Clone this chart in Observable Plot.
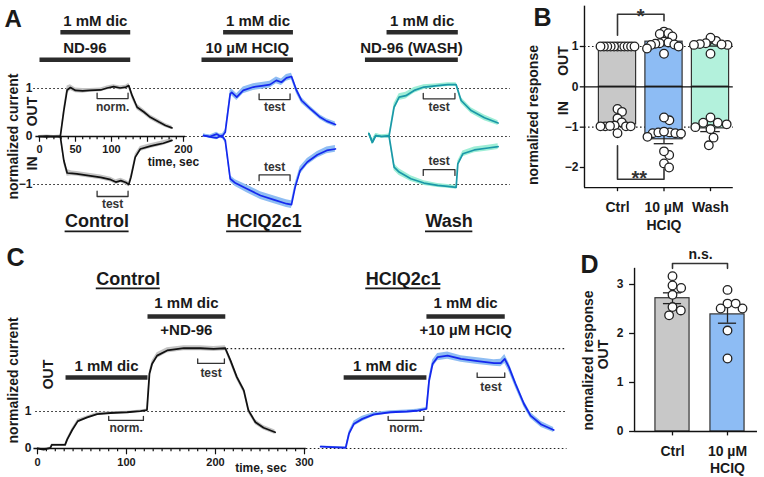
<!DOCTYPE html>
<html><head><meta charset="utf-8">
<script src="https://cdn.jsdelivr.net/npm/d3@7"></script>
<script src="https://cdn.jsdelivr.net/npm/@observablehq/plot@0.6"></script>
<style>
body{margin:0;background:#fff}
#fig{position:relative;width:764px;height:477px;overflow:hidden;background:#fff}
</style></head><body><div id="fig"></div>
<script>
// ---------- DATA ----------
// Panel A traces: [time (s), normalized current, SEM]
const aCtrlOut = [[-1,0,0.02],[10,0.01,0.02],[20,0,0.02],[29,0.01,0.02],[33.8,0.54,0.08],[38.4,0.97,0.08],[43,1.02,0.06],[50,0.96,0.05],[60,0.95,0.05],[70,0.96,0.04],[85,0.97,0.04],[94,1.01,0.04],[103,1.04,0.04],[112,1.01,0.04],[120,1.03,0.04],[124,1.06,0.05],[128.7,0.85,0.07],[135.6,0.61,0.06],[145,0.51,0.05],[154,0.40,0.05],[166,0.30,0.05],[175,0.23,0.04],[184,0.18,0.04]];
const aCtrlIn = [[-1,0,0.02],[10,-0.01,0.02],[20,0,0.02],[29,-0.01,0.02],[33.8,-0.5,0.08],[38.4,-0.76,0.07],[45,-0.77,0.05],[52,-0.78,0.05],[66,-0.81,0.05],[85,-0.85,0.05],[99,-0.9,0.05],[106,-0.95,0.05],[113,-0.92,0.05],[120,-0.96,0.05],[124,-1.0,0.05],[127,-0.85,0.06],[133,-0.43,0.06],[140,-0.26,0.05],[154,-0.2,0.05],[163,-0.17,0.05],[172,-0.14,0.05],[184,-0.08,0.04]];
const aHciqOut = [[1.9,0.02,0.03],[11,0,0.03],[20,0.05,0.04],[27,-0.01,0.04],[32,0.09,0.05],[38.9,0.89,0.07],[41,0.92,0.07],[48,0.82,0.07],[57,0.96,0.07],[71,1.03,0.07],[85,1.06,0.07],[94,1.08,0.07],[103,1.17,0.07],[110,1.13,0.07],[117,1.22,0.07],[124,1.25,0.07],[131,0.96,0.07],[138,0.75,0.06],[150,0.58,0.05],[164,0.40,0.05],[173,0.32,0.05],[185,0.25,0.05]];
const aHciqIn = [[1.9,0.02,0.03],[11,-0.01,0.03],[20,-0.03,0.04],[27,0.02,0.04],[32,-0.08,0.05],[38.9,-0.88,0.07],[46,-0.97,0.07],[62,-1.09,0.08],[81,-1.23,0.08],[100,-1.32,0.08],[117,-1.4,0.08],[124,-1.42,0.08],[129,-1.06,0.08],[136,-0.71,0.08],[146,-0.53,0.07],[160,-0.38,0.07],[173,-0.29,0.07],[185,-0.26,0.07]];
const aWashOut = [[4.6,0.06,0.04],[9.3,-0.12,0.05],[14,0.02,0.04],[22,0,0.03],[32.6,0.02,0.03],[39.5,0.61,0.08],[46.5,0.82,0.07],[55.8,0.85,0.07],[67.4,0.96,0.06],[81,1.03,0.05],[100,1.06,0.04],[114,1.08,0.04],[125.7,1.08,0.04],[132.6,0.75,0.06],[146.5,0.54,0.06],[165,0.39,0.06],[184,0.28,0.05]];
const aWashIn = [[4.6,0.06,0.04],[9.3,-0.12,0.05],[14,0.02,0.04],[22,0,0.03],[32.6,0,0.03],[39.5,-0.64,0.07],[46.5,-0.74,0.07],[62.8,-0.88,0.06],[81,-0.97,0.05],[100,-1.02,0.04],[114,-1.04,0.04],[125.7,-1.06,0.04],[128,-0.57,0.06],[135,-0.36,0.06],[151,-0.28,0.06],[170,-0.24,0.06],[184,-0.21,0.06]];
const aConditions = ["Control", "HCIQ2c1", "Wash"];
const aUpperDrug = ["1 mM dic", "1 mM dic", "1 mM dic"];
const aLowerDrug = ["ND-96", "10 µM HCIQ", "ND-96 (WASH)"];
const aUpperSpan = [[29,126],[29,126],[29,128]];
const aLowerSpan = [[0,126],[-1,126],[-1,128]];
const aWindow = [[80,123],[79,122],[80,124]];
const aTimeTicks = [0, 50, 100, 200];

// Panel B
const bCategories = ["Ctrl", "10 µM\nHCIQ", "Wash"];
const bOutMean = [1.0, 1.12, 1.06];
const bOutSem = [0.005, 0.04, 0.05];
const bInMean = [-0.93, -1.30, -1.03];
const bInSem = [0.05, 0.11, 0.08];
const bOutPts = [
  [1,1,1,1,1,1,1,1,1,1,1],
  [1.37,1.31,1.33,1.25,1.12,1.1,1.08,1.07,1.05,1.04,1.0,0.95,0.82],
  [1.14,1.22,1.08,1.06,1.04,1.04,1.05,0.82]
];
const bInPts = [
  [-0.55,-0.62,-0.78,-0.88,-0.96,-0.98,-0.98,-0.98,-0.98,-0.97,-1.15],
  [-0.83,-0.76,-1.13,-1.15,-1.16,-1.15,-1.13,-1.11,-1.24,-1.69,-1.6,-1.9,-2.0],
  [-0.76,-0.89,-0.89,-0.93,-1.0,-1.05,-1.26,-1.45]
];
const bTicks = [-2, -1, 0, 1];

// Panel C traces
const cCtrl = [[0,0,0.02],[7,-0.03,0.02],[14.6,0.02,0.02],[16,0.1,0.02],[31,0.1,0.02],[33.3,0.24,0.04],[39,0.5,0.05],[45.3,0.74,0.05],[55.8,0.84,0.04],[67,0.93,0.04],[82,0.96,0.03],[100.7,0.98,0.03],[115.7,1.01,0.03],[123,1.04,0.03],[125.8,2.02,0.08],[128.8,2.29,0.08],[134.4,2.51,0.08],[145.7,2.65,0.07],[164.4,2.71,0.07],[183,2.71,0.07],[198,2.69,0.07],[211,2.71,0.07],[216.8,2.38,0.08],[224,1.93,0.08],[231.8,1.57,0.08],[237,1.03,0.08],[244.9,0.71,0.07],[254,0.56,0.06],[267,0.44,0.06]];
const cHciq = [[2.2,0.05,0.02],[30.3,0.02,0.02],[34,0.4,0.06],[39.7,0.67,0.07],[49,0.8,0.07],[62,0.92,0.05],[80.5,0.98,0.04],[99,1.0,0.04],[110,1.02,0.04],[121,1.07,0.04],[124,1.83,0.1],[128,2.29,0.1],[133.6,2.47,0.1],[144.8,2.51,0.1],[159.8,2.42,0.09],[178.5,2.36,0.09],[197,2.31,0.09],[204.5,2.31,0.1],[209,2.42,0.12],[213.7,2.2,0.12],[221,1.75,0.1],[230.5,1.21,0.09],[238,0.89,0.08],[250,0.65,0.08],[264,0.5,0.07]];
const cConditions = ["Control", "HCIQ2c1"];
const cFirstSpan = [[31.5,123.6],[28,121]];
const cSecondSpan = [[123.6,211],[121,209]];
const cSecondDrug = ["+ND-96", "+10 µM HCIQ"];
const cNormWindow = [[80,119],[78,118]];
const cTestWindow = [[180,210],[178,209]];
const cTimeTicks = [0, 100, 200, 300];
const cPlateau = 2.7;

// Panel D
const dCategories = ["Ctrl", "10 µM\nHCIQ"];
const dMean = [2.72, 2.39];
const dSem = [0.11, 0.18];
const dPts = [
  [3.17,2.98,2.93,2.79,2.54,2.47,2.37],
  [2.89,2.61,2.51,2.51,2.61,2.06,1.49]
];
const dTicks = [0, 1, 2, 3];

// ---------- HELPERS ----------
const FONT = '"Liberation Sans", Arial, Helvetica, sans-serif';
const INK = "#1a1a1a";
const txt = (data, o) => Plot.text(data, {fontWeight: "bold", fill: INK, fontSize: 14, text: d => d, ...o});
const dotted = {stroke: "#222", strokeDasharray: "1.6,2.4", strokeWidth: 1.2};
const fmt = v => v < 0 ? "−" + Math.abs(v) : String(v);
const ctx = document.createElement("canvas").getContext("2d");
function textWidth(s, size) { ctx.font = `bold ${size}px ${FONT}`; return ctx.measureText(s).width; }
function place(svg, left, top) {
  svg.style.position = "absolute";
  svg.style.left = left + "px";
  svg.style.top = top + "px";
  svg.style.background = "transparent";
  svg.style.maxWidth = "none";
  document.getElementById("fig").appendChild(svg);
}
function bracketPts(t0, t1, yLine, yEnd, id) {
  return [[t0, yEnd, id], [t0, yLine, id], [t1, yLine, id], [t1, yEnd, id]];
}
// simple beeswarm in pixel space, compressed to fit inside the bar
function swarm(values, pyPerUnit, r, maxHalf, pxPerUnit) {
  const d = 2 * r;
  const items = values.map((v, i) => ({v, i, y: v * pyPerUnit})).sort((a, b) => b.v - a.v);
  const placed = [];
  for (const it of items) {
    const cands = [0];
    for (const p of placed) {
      const dy = Math.abs(p.y - it.y);
      if (dy < d) { const dx = Math.sqrt(d * d - dy * dy); cands.push(p.x + dx, p.x - dx); }
    }
    cands.sort((a, b) => Math.abs(a) - Math.abs(b));
    it.x = cands.find(c => placed.every(p => (p.x - c) ** 2 + (p.y - it.y) ** 2 >= d * d - 1e-6));
    placed.push(it);
  }
  const m = d3.max(placed, p => Math.abs(p.x)) || 0;
  const k = m > maxHalf ? maxHalf / m : 1;
  const out = new Array(values.length);
  for (const p of placed) out[p.i] = p.x * k / pxPerUnit;
  return out;
}

// ---------- PANEL A ----------
{
  const offs = [0, 226, 453];
  const tEnd = 654;
  const pxPerSec = 0.72;
  const series = [
    {off: 0, data: aCtrlOut, line: "#111", band: "#c4c4c4"},
    {off: 0, data: aCtrlIn, line: "#111", band: "#c4c4c4"},
    {off: 226, data: aHciqOut, line: "#1428ee", band: "#8fbdf3"},
    {off: 226, data: aHciqIn, line: "#1428ee", band: "#8fbdf3"},
    {off: 453, data: aWashOut, line: "#1a98a8", band: "#9eeed6"},
    {off: 453, data: aWashIn, line: "#1a98a8", band: "#9eeed6"}
  ];
  const idx = [0, 1, 2];
  const titleY = -1.77;
  const titleX = i => [80, 86, 116][i] + offs[i];
  const titleHalf = i => textWidth(aConditions[i], 18) / 2 / pxPerSec;
  const upperY = [0.79, 0.77, 0.785], lowerY = [-1.25, -0.80, -0.69];
  const br = [];
  idx.forEach(i => {
    const [t0, t1] = aWindow[i];
    br.push(...bracketPts(t0 + offs[i], t1 + offs[i], upperY[i], upperY[i] + 0.115, "u" + i));
    br.push(...bracketPts(t0 + offs[i], t1 + offs[i], lowerY[i], lowerY[i] + (i === 0 ? 0.11 : -0.12), "l" + i));
  });
  const svg = Plot.plot({
    width: 520, height: 240, marginTop: 0, marginLeft: 0, marginRight: 0, marginBottom: 0,
    style: {fontFamily: FONT},
    x: {domain: [0, 200], range: [39, 183], axis: null},
    y: {domain: [-1, 1], range: [184, 88], axis: null},
    marks: [
      Plot.ruleY([1, -1], {x1: -8, x2: tEnd, ...dotted}),
      Plot.ruleY([0], {x1: 203, x2: tEnd, ...dotted}),
      ...series.map(s => Plot.areaY(s.data, {x: d => d[0] + s.off, y1: d => d[1] - d[2], y2: d => d[1] + d[2], fill: s.band})),
      ...series.map(s => Plot.line(s.data, {x: d => d[0] + s.off, y: d => d[1], stroke: s.line, strokeWidth: 1.7})),
      Plot.ruleY([0], {x1: -5, x2: 203, stroke: "#111", strokeWidth: 1.6}),
      Plot.ruleX(d3.range(0, 201, 10), {y1: 0, y2: d => d % 50 === 0 ? -0.12 : -0.07, stroke: "#111", strokeWidth: 1.2}),
      txt(aTimeTicks, {x: d => d, y: 0, dy: 13, text: d => String(d), fontSize: 11}),
      txt(["time, sec"], {x: 186, y: 0, dy: 26, fontSize: 12}),
      txt([1, 0, -1], {x: 0, y: d => d, dx: -7, textAnchor: "end", text: fmt, fontSize: 12}),
      txt(["normalized current"], {x: 0, y: 0, dx: -26, rotate: -90}),
      txt(["OUT"], {x: 0, y: 0.52, dx: -7, rotate: -90}),
      txt(["IN"], {x: 0, y: -0.56, dx: -7, rotate: -90}),
      // drug application bars
      Plot.link(idx, {x1: i => aUpperSpan[i][0] + offs[i], x2: i => aUpperSpan[i][1] + offs[i], y1: 2.17, y2: 2.17, stroke: "#2b2b2b", strokeWidth: 4.5}),
      Plot.link(idx, {x1: i => aLowerSpan[i][0] + offs[i], x2: i => aLowerSpan[i][1] + offs[i], y1: 1.6, y2: 1.6, stroke: "#2b2b2b", strokeWidth: 4.5}),
      txt(idx, {x: i => (aUpperSpan[i][0] + aUpperSpan[i][1]) / 2 + offs[i], y: 2.40, text: i => aUpperDrug[i], fontSize: 15}),
      txt(idx, {x: i => (aLowerSpan[i][0] + aLowerSpan[i][1]) / 2 + offs[i], y: 1.83, text: i => aLowerDrug[i], fontSize: 15}),
      // brackets
      Plot.line(br, {x: d => d[0], y: d => d[1], z: d => d[2], stroke: "#333", strokeWidth: 1.3}),
      txt(["norm."], {x: (aWindow[0][0] + aWindow[0][1]) / 2, y: 0.61, fontSize: 12, fill: "#333"}),
      txt(["test"], {x: (aWindow[0][0] + aWindow[0][1]) / 2, y: -1.41, fontSize: 12, fill: "#333"}),
      txt([1, 2], {x: i => (aWindow[i][0] + aWindow[i][1]) / 2 + offs[i], y: 0.61, text: () => "test", fontSize: 12, fill: "#333"}),
      txt([1, 2], {x: i => (aWindow[i][0] + aWindow[i][1]) / 2 + offs[i], y: i => i === 1 ? -0.64 : -0.51, text: () => "test", fontSize: 12, fill: "#333"}),
      // underlined condition titles
      txt(idx, {x: titleX, y: titleY, text: i => aConditions[i], fontSize: 18}),
      Plot.ruleY(idx, {y: titleY, dy: 10, x1: i => titleX(i) - titleHalf(i), x2: i => titleX(i) + titleHalf(i), stroke: INK, strokeWidth: 1.7}),
      txt(["A"], {frameAnchor: "top-left", dx: 4, dy: 9, fontSize: 24, text: d => d})
    ]
  });
  place(svg, 0, 0);
}

// ---------- PANEL B ----------
{
  const L = -0.71, R = 2.49, B = -2.5, TOP = 2;
  const fills = ["#c8c8c8", "#8dbcf4", "#b3f1dc"];
  const idx = [0, 1, 2];
  const dots = [];
  [bOutPts, bInPts].forEach(group => group.forEach((vals, i) => {
    const o = swarm(vals, 40.33, 4.5, 17, 46.5);
    vals.forEach((v, k) => dots.push({x: i + o[k], y: v}));
  }));
  const bars = idx.flatMap(i => [{i, m: bOutMean[i], s: bOutSem[i]}, {i, m: bInMean[i], s: bInSem[i]}]);
  const sig = [...bracketPts(0, 1, 1.80, 1.28, "a").slice(0, 3), [1, 1.64, "a"],
               ...bracketPts(0, 1, -2.29, -1.46, "b").slice(0, 3), [1, -2.04, "b"]];
  const svg = Plot.plot({
    width: 244, height: 240, marginTop: 0, marginLeft: 0, marginRight: 0, marginBottom: 0,
    style: {fontFamily: FONT},
    x: {domain: [0, 2], range: [97, 190], axis: null},
    y: {domain: [-2, 1], range: [167, 46], axis: null},
    marks: [
      Plot.ruleY([1, -1], {x1: L, x2: R, ...dotted}),
      Plot.rect(bars, {x1: d => d.i - 0.4, x2: d => d.i + 0.4, y1: 0, y2: d => d.m, fill: d => fills[d.i], stroke: "#333", strokeWidth: 1.2}),
      Plot.ruleY([0], {x1: L, x2: R, stroke: "#111", strokeWidth: 1.3}),
      Plot.ruleX(bars, {x: d => d.i, y1: d => d.m - d.s, y2: d => d.m + d.s, stroke: "#222", strokeWidth: 1.3}),
      Plot.ruleY(bars, {y: d => d.m - d.s, x1: d => d.i - 0.21, x2: d => d.i + 0.21, stroke: "#222", strokeWidth: 1.3}),
      Plot.ruleY(bars, {y: d => d.m + d.s, x1: d => d.i - 0.21, x2: d => d.i + 0.21, stroke: "#222", strokeWidth: 1.3}),
      Plot.dot(dots, {x: "x", y: "y", r: 4.3, fill: "white", stroke: "#222", strokeWidth: 1.3}),
      // axes
      Plot.ruleX([L], {y1: B, y2: TOP, stroke: "#111", strokeWidth: 1.4}),
      Plot.ruleY([B], {x1: L, x2: R, stroke: "#111", strokeWidth: 1.4}),
      Plot.ruleX(idx, {y1: B, y2: B - 0.1, stroke: "#111", strokeWidth: 1.3}),
      Plot.ruleY(bTicks, {x1: L, x2: L - 0.09, stroke: "#111", strokeWidth: 1.3}),
      txt(bTicks, {x: L, y: d => d, dx: -6, textAnchor: "end", text: fmt, fontSize: 12}),
      txt(idx, {x: i => i, y: B, dy: 12, lineAnchor: "top", lineHeight: 1.25, text: i => bCategories[i]}),
      txt(["normalized response"], {x: -1.806, y: -0.70, rotate: -90}),
      txt(["OUT"], {x: -1.16, y: 0.64, rotate: -90}),
      txt(["IN"], {x: -1.16, y: -0.53, rotate: -90}),
      Plot.line(sig, {x: d => d[0], y: d => d[1], z: d => d[2], stroke: "#333", strokeWidth: 1.6}),
      txt(["*"], {x: 0.5, y: 1.59, lineAnchor: "bottom", fontSize: 20, fill: "#333"}),
      txt(["**"], {x: 0.47, y: -2.43, lineAnchor: "bottom", fontSize: 20, fill: "#333"}),
      txt(["B"], {frameAnchor: "top-left", dx: 13, dy: 8, fontSize: 25})
    ]
  });
  place(svg, 520, 0);
}

// ---------- PANEL C ----------
{
  const offs = [0, 316];
  const tEnd = 595;
  const pxPerSec = 0.89;
  const idx = [0, 1];
  const series = [
    {off: 0, data: cCtrl, line: "#111", band: "#c4c4c4"},
    {off: 316, data: cHciq, line: "#1428ee", band: "#8fbdf3"}
  ];
  const titleX = i => [102, 95][i] + offs[i];
  const titleHalf = i => textWidth(cConditions[i], 18) / 2 / pxPerSec;
  const testY = [2.3, 1.92];
  const br = [];
  idx.forEach(i => {
    br.push(...bracketPts(cNormWindow[i][0] + offs[i], cNormWindow[i][1] + offs[i], 0.76, 0.87, "n" + i));
    br.push(...bracketPts(cTestWindow[i][0] + offs[i], cTestWindow[i][1] + offs[i], testY[i], testY[i] + 0.12, "t" + i));
  });
  const svg = Plot.plot({
    width: 570, height: 237, marginTop: 0, marginLeft: 0, marginRight: 0, marginBottom: 0,
    style: {fontFamily: FONT},
    x: {domain: [0, 300], range: [37, 304], axis: null},
    y: {domain: [0, 1], range: [208, 171], axis: null},
    marks: [
      Plot.ruleY([1], {x1: -2, x2: tEnd, ...dotted}),
      Plot.ruleY([cPlateau], {x1: 213, x2: tEnd, ...dotted}),
      Plot.ruleY([0], {x1: 302, x2: tEnd, ...dotted}),
      ...series.map(s => Plot.areaY(s.data, {x: d => d[0] + s.off, y1: d => d[1] - d[2], y2: d => d[1] + d[2], fill: s.band})),
      ...series.map(s => Plot.line(s.data, {x: d => d[0] + s.off, y: d => d[1], stroke: s.line, strokeWidth: 1.8})),
      Plot.ruleY([0], {x1: -4, x2: 302, stroke: "#111", strokeWidth: 1.6}),
      Plot.ruleX(d3.range(0, 301, 10), {y1: 0, y2: d => d % 100 === 0 ? -0.17 : -0.09, stroke: "#111", strokeWidth: 1.2}),
      txt(cTimeTicks, {x: d => d, y: 0, dy: 14, text: d => String(d), fontSize: 11}),
      txt(["time, sec"], {x: 251, y: 0, dy: 20, fontSize: 12}),
      txt([1, 0], {x: 0, y: d => d, dx: -6, textAnchor: "end", text: fmt, fontSize: 12}),
      txt(["normalized current"], {x: 0, y: 1.84, dx: -24, rotate: -90}),
      txt(["OUT"], {x: 12, y: 2.0, rotate: -90}),
      Plot.link(idx, {x1: i => cFirstSpan[i][0] + offs[i], x2: i => cFirstSpan[i][1] + offs[i], y1: 1.92, y2: 1.92, stroke: "#2b2b2b", strokeWidth: 4.5}),
      Plot.link(idx, {x1: i => cSecondSpan[i][0] + offs[i], x2: i => cSecondSpan[i][1] + offs[i], y1: 3.57, y2: 3.57, stroke: "#2b2b2b", strokeWidth: 4.5}),
      txt(idx, {x: i => (cFirstSpan[i][0] + cFirstSpan[i][1]) / 2 + offs[i], y: 2.22, text: () => "1 mM dic", fontSize: 15}),
      txt(idx, {x: i => (cSecondSpan[i][0] + cSecondSpan[i][1]) / 2 + offs[i], y: 3.92, text: () => "1 mM dic", fontSize: 15}),
      txt(idx, {x: i => (cSecondSpan[i][0] + cSecondSpan[i][1]) / 2 + offs[i], y: 3.19, text: i => cSecondDrug[i], fontSize: 15}),
      Plot.line(br, {x: d => d[0], y: d => d[1], z: d => d[2], stroke: "#333", strokeWidth: 1.3}),
      txt(idx, {x: i => (cNormWindow[i][0] + cNormWindow[i][1]) / 2 + offs[i], y: 0.54, text: () => "norm.", fontSize: 12, fill: "#333"}),
      txt(idx, {x: i => (cTestWindow[i][0] + cTestWindow[i][1]) / 2 + offs[i], y: i => testY[i] - 0.26, text: () => "test", fontSize: 12, fill: "#333"}),
      txt(idx, {x: titleX, y: 4.57, text: i => cConditions[i], fontSize: 18}),
      Plot.ruleY(idx, {y: 4.57, dy: 9, x1: i => titleX(i) - titleHalf(i), x2: i => titleX(i) + titleHalf(i), stroke: INK, strokeWidth: 1.7}),
      txt(["C"], {frameAnchor: "top-left", dx: 6, dy: 8, fontSize: 25})
    ]
  });
  place(svg, 0, 240);
}

// ---------- PANEL D ----------
{
  const L = -0.69, R = 1.545, TOP = 3.33;
  const fills = ["#c8c8c8", "#8dbcf4"];
  const idx = [0, 1];
  const dots = [];
  dPts.forEach((vals, i) => {
    const o = swarm(vals, 49, 4.5, 15, 55);
    vals.forEach((v, k) => dots.push({x: i + o[k], y: v}));
  });
  const sig = bracketPts(0, 1, 3.43, 3.33, "s");
  const svg = Plot.plot({
    width: 204, height: 237, marginTop: 0, marginLeft: 0, marginRight: 0, marginBottom: 0,
    style: {fontFamily: FONT},
    x: {domain: [0, 1], range: [112, 167], axis: null},
    y: {domain: [0, 3], range: [191, 44], axis: null},
    marks: [
      Plot.rect(idx, {x1: i => i - 0.31, x2: i => i + 0.31, y1: 0, y2: i => dMean[i], fill: i => fills[i], stroke: "#333", strokeWidth: 1.2}),
      Plot.ruleX(idx, {x: i => i, y1: i => dMean[i] - dSem[i], y2: i => dMean[i] + dSem[i], stroke: "#222", strokeWidth: 1.3}),
      Plot.ruleY(idx, {y: i => dMean[i] - dSem[i], x1: i => i - 0.165, x2: i => i + 0.165, stroke: "#222", strokeWidth: 1.3}),
      Plot.ruleY(idx, {y: i => dMean[i] + dSem[i], x1: i => i - 0.165, x2: i => i + 0.165, stroke: "#222", strokeWidth: 1.3}),
      Plot.dot(dots, {x: "x", y: "y", r: 4.3, fill: "white", stroke: "#222", strokeWidth: 1.3}),
      Plot.ruleX([L], {y1: 0, y2: TOP, stroke: "#111", strokeWidth: 1.4}),
      Plot.ruleY([0], {x1: L, x2: R, stroke: "#111", strokeWidth: 1.4}),
      Plot.ruleX(idx, {y1: 0, y2: -0.09, stroke: "#111", strokeWidth: 1.3}),
      Plot.ruleY(dTicks, {x1: L, x2: L - 0.09, stroke: "#111", strokeWidth: 1.3}),
      txt(dTicks, {x: L, y: d => d, dx: -11, textAnchor: "end", text: fmt, fontSize: 12}),
      txt(idx, {x: i => i, y: 0, dy: 12, lineAnchor: "top", lineHeight: 1.22, text: i => dCategories[i]}),
      txt(["normalized response"], {x: -1.53, y: 1.45, rotate: -90}),
      txt(["OUT"], {x: -1.25, y: 1.57, rotate: -90}),
      Plot.line(sig, {x: d => d[0], y: d => d[1], stroke: "#333", strokeWidth: 1.6}),
      txt(["n.s."], {x: 0.51, y: 3.53, lineAnchor: "bottom", fontSize: 14}),
      txt(["D"], {frameAnchor: "top-left", dx: 20, dy: 15, fontSize: 25})
    ]
  });
  place(svg, 560, 240);
}
</script></body></html>
